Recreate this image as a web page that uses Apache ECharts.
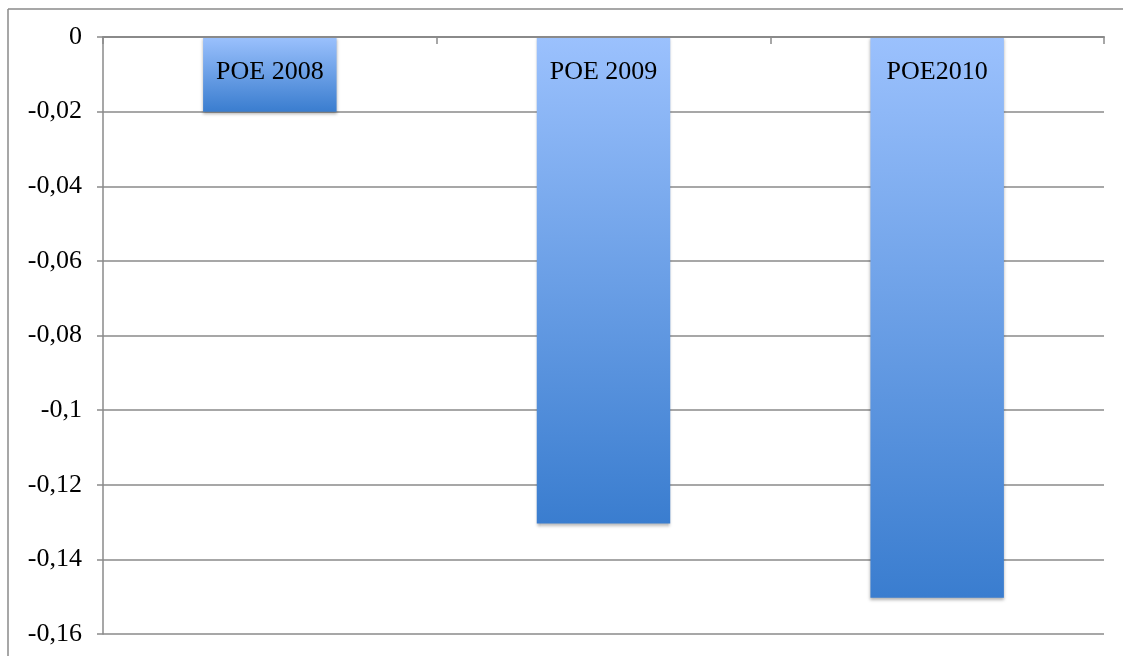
<!DOCTYPE html>
<html><head><meta charset="utf-8">
<script src="https://cdn.jsdelivr.net/npm/echarts@6/dist/echarts.min.js"></script>
<style>html,body{margin:0;padding:0;background:#fff}#c{width:1123px;height:656px}</style>
</head><body><div id="c"></div>
<script>
const categories = ['POE 2008', 'POE 2009', 'POE2010'];
const values = [-0.02, -0.1304, -0.1503];
const yMin = -0.16, yMax = 0, yStep = 0.02;

const chart = echarts.init(document.getElementById('c'));
const font = '"Liberation Serif", "DejaVu Serif", serif';
chart.setOption({
  animation: false,
  backgroundColor: '#fff',
  grid: { left: 103, right: 19, top: 37, bottom: 22, containLabel: false, outerBoundsMode: 'none' },
  graphic: [
    { type: 'line', shape: { x1: 8, y1: 9, x2: 1123, y2: 9 }, style: { stroke: '#8a8a8a', lineWidth: 1.5 } },
    { type: 'line', shape: { x1: 8, y1: 9, x2: 8, y2: 656 }, style: { stroke: '#8a8a8a', lineWidth: 1.5 } }
  ],
  xAxis: {
    type: 'category', data: categories, z: 5, position: 'top',
    axisLine: { onZero: false, lineStyle: { color: '#8a8a8a', width: 2 } },
    axisTick: { show: true, inside: true, length: 7, lineStyle: { color: '#8a8a8a', width: 1.5 } },
    axisLabel: { inside: true, color: '#000', fontFamily: font, fontSize: 26, margin: 22 }
  },
  yAxis: {
    type: 'value', min: yMin, max: yMax, interval: yStep,
    axisLine: { show: true, lineStyle: { color: '#8a8a8a', width: 1.5 } },
    axisTick: { show: true, length: 6, lineStyle: { color: '#8a8a8a', width: 1.5 } },
    splitLine: { lineStyle: { color: '#8a8a8a', width: 1.5 } },
    axisLabel: {
      color: '#000', fontFamily: font, fontSize: 26, margin: 21,
      formatter: v => String(Number(v.toFixed(2))).replace('.', ',')
    }
  },
  series: [{
    type: 'bar', data: values, barWidth: '40%',
    itemStyle: {
      color: new echarts.graphic.LinearGradient(0, 0, 0, 1, [
        { offset: 0, color: '#9bc1fd' },
        { offset: 1, color: '#3a7dcf' }
      ]),
      shadowColor: 'rgba(0,0,0,0.3)', shadowBlur: 3, shadowOffsetY: 2
    }
  }]
});
</script></body></html>
